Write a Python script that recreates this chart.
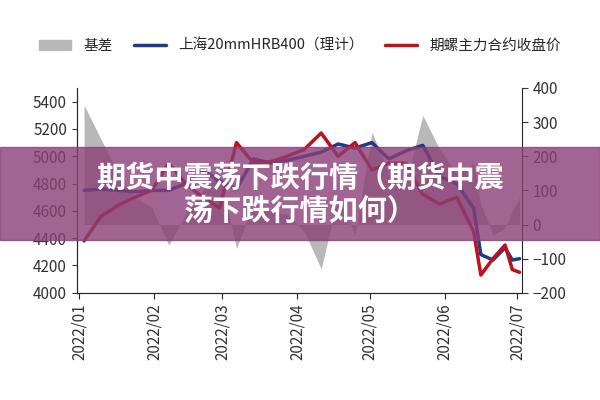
import numpy as np, pandas as pd, matplotlib
matplotlib.use("Agg")
import matplotlib.pyplot as plt, seaborn as sns
from matplotlib.patches import Patch, Rectangle
from matplotlib.lines import Line2D

sns.set_style("white")
plt.rcParams['font.family'] = ['Noto Sans CJK SC', 'DejaVu Sans']

dates = list(pd.date_range("2022-01-03", periods=24, freq="7D")) + \
    list(pd.to_datetime(["2022-06-16", "2022-06-21", "2022-06-26", "2022-06-29", "2022-07-02"]))
spot = [4750, 4760, 4750, 4740, 4750, 4750, 4800, 4900, 4820, 4760, 4980, 4950, 4970,
        5000, 5030, 5090, 5060, 5100, 4980, 5040, 5080, 4850, 4800, 4620,
        4280, 4240, 4330, 4240, 4250]
futures = [4380, 4560, 4640, 4700, 4750, 4950, 4800, 4700, 4620, 5100, 4950, 4960, 5000,
           5050, 5170, 5000, 5100, 4900, 4950, 4950, 4720, 4650, 4700, 4450,
           4130, 4250, 4350, 4170, 4150]
basis = [350, 250, 150, 80, 50, -60, 30, 100, 150, -70, 60, 40, 30,
         -20, -130, 80, -30, 270, 150, 120, 320, 220, 150, 180,
         60, -30, -10, 40, 80]

df = pd.DataFrame({"date": dates, "spot": spot, "fut": futures, "basis": basis})

fig = plt.figure(figsize=(6, 4), dpi=100)
ax = fig.add_axes([0.128, 0.268, 0.742, 0.512])
ax2 = ax.twinx()
ax2.fill_between(df["date"], 0, df["basis"], color="#b8b8b8", lw=0)
ax2.set_ylim(-200, 400)
ax2.set_yticks(range(-200, 401, 100))
ax.set_zorder(ax2.get_zorder() + 1); ax.patch.set_visible(False)
sns.lineplot(data=df, x="date", y="spot", ax=ax, color="#1f3a8a", lw=2.5)
sns.lineplot(data=df, x="date", y="fut", ax=ax, color="#c0101a", lw=2.5)
ax.set_ylim(4000, 5500)
ax.set_yticks(range(4000, 5401, 200))
ticks = pd.date_range("2022-01-01", periods=7, freq="MS")
ax.set_xticks(ticks)
ax.set_xticklabels([t.strftime("%Y/%m") for t in ticks], rotation=90, fontsize=11, color="#333")
ax.set_xlim(pd.Timestamp("2021-12-31"), pd.Timestamp("2022-07-03"))
ax.set_xlabel(""); ax.set_ylabel("")
ax.tick_params(axis="y", labelsize=11, colors="#333")
ax2.tick_params(axis="y", labelsize=11, colors="#333", length=4, direction="out")
for a in (ax, ax2):
    a.spines["top"].set_visible(False)
ax.spines["right"].set_visible(False)
ax.tick_params(axis="x", length=4, direction="out", bottom=True)

handles = [Patch(color="#b8b8b8"), Line2D([], [], color="#1f3a8a", lw=2.5), Line2D([], [], color="#c0101a", lw=2.5)]
fig.legend(handles, ["基差", "上海20mmHRB400（理计）", "期螺主力合约收盘价"], loc="center",
           bbox_to_anchor=(0.5, 0.885), ncol=3, frameon=False, fontsize=10.5,
           handlelength=2.2, columnspacing=1.5)

fig.patches.append(Rectangle((0, 0.40), 1, 0.233, transform=fig.transFigure,
                             color="#8b3f78", alpha=0.8, zorder=10))
fig.text(0.5, 0.515, "期货中震荡下跌行情（期货中震\n荡下跌行情如何）", ha="center", va="center",
         color="white", fontsize=21, fontweight="bold", zorder=11, linespacing=1.15)
fig.savefig("out.png", dpi=100)
